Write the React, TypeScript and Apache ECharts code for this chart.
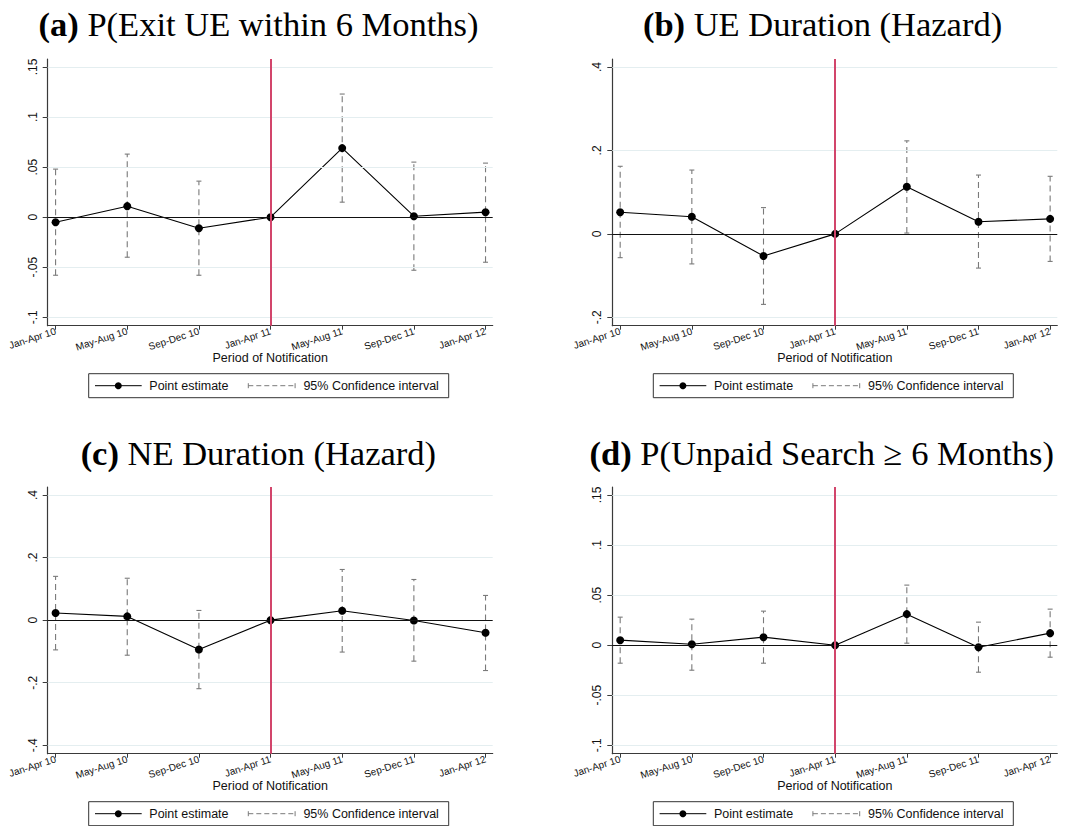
import React, { useEffect, useRef } from "react";
import * as echarts from "echarts";

const categories = ["Jan-Apr 10", "May-Aug 10", "Sep-Dec 10", "Jan-Apr 11", "May-Aug 11", "Sep-Dec 11", "Jan-Apr 12"];

const titlesBold = ["(a)", "(b)", "(c)", "(d)"];
const titlesRest = ["P(Exit UE within 6 Months)", "UE Duration (Hazard)", "NE Duration (Hazard)", "P(Unpaid Search \u2265 6 Months)"];

const aEst = [-0.005, 0.011, -0.011, 0, 0.069, 0.001, 0.005];
const aLo = [-0.058, -0.040, -0.058, null, 0.015, -0.053, -0.045];
const aHi = [0.048, 0.063, 0.036, null, 0.123, 0.055, 0.054];

const bEst = [0.052, 0.041, -0.053, 0, 0.113, 0.029, 0.036];
const bLo = [-0.057, -0.072, -0.169, null, 0.002, -0.082, -0.066];
const bHi = [0.162, 0.153, 0.063, null, 0.223, 0.141, 0.138];

const cEst = [0.023, 0.012, -0.094, 0, 0.030, -0.001, -0.040];
const cLo = [-0.095, -0.112, -0.219, null, -0.102, -0.131, -0.161];
const cHi = [0.140, 0.134, 0.031, null, 0.162, 0.130, 0.079];

const dEst = [0.005, 0.001, 0.008, 0, 0.031, -0.002, 0.012];
const dLo = [-0.018, -0.025, -0.018, null, 0.002, -0.027, -0.012];
const dHi = [0.028, 0.026, 0.034, null, 0.060, 0.023, 0.036];

const ticksSmall = [-0.1, -0.05, 0, 0.05, 0.1, 0.15];
const ticksB = [-0.2, 0, 0.2, 0.4];
const ticksC = [-0.4, -0.2, 0, 0.2, 0.4];

const xAxisTitle = "Period of Notification";
const legendPoint = "Point estimate";
const legendCI = "95% Confidence interval";
const notificationIndex = 4;

const SANS = "Liberation Sans";
const SERIF = "Liberation Serif";

function fmtTick(v: number): string {
  if (Math.abs(v) < 1e-9) return "0";
  const s = String(Math.round(Math.abs(v) * 1000) / 1000).replace(/^0/, "");
  return (v < 0 ? "-" : "") + s;
}

const panels = [
  { est: aEst, lo: aLo, hi: aHi, ticks: ticksSmall, ymin: -0.1084, ymax: 0.158, left: 47.7, top: 59, titleX: 258.5, titleY: 24 },
  { est: bEst, lo: bLo, hi: bHi, ticks: ticksB, ymin: -0.2201, ymax: 0.4192, left: 612.3, top: 59, titleX: 822.5, titleY: 24 },
  { est: cEst, lo: cLo, hi: cHi, ticks: ticksC, ymin: -0.4268, ymax: 0.4256, left: 47.7, top: 487, titleX: 258.3, titleY: 453 },
  { est: dEst, lo: dLo, hi: dHi, ticks: ticksSmall, ymin: -0.1084, ymax: 0.158, left: 612.3, top: 487, titleX: 821.7, titleY: 453 },
];

const GRID_W = 445;
const GRID_H = 266.7;
const XMIN = 0.89;
const XMAX = 7.1;
const CI_COLOR = "#7a7a7a";
const AXIS_COLOR = "#3a3a3a";
const RED = "#d2456b";
const TITLE_SIZE = 34.5;

export default function App() {
  const ref = useRef<HTMLDivElement>(null);
  useEffect(() => {
    if (!ref.current) return;
    const chart = echarts.init(ref.current, null, { renderer: "svg" });
    const xValues = categories.map((_, i) => i + 1);

    const grids: any[] = [];
    const xAxes: any[] = [];
    const yAxes: any[] = [];
    const series: any[] = [];
    const graphics: any[] = [];

    panels.forEach((p, k) => {
      grids.push({ left: p.left, top: p.top, width: GRID_W, height: GRID_H, containLabel: false, outerBoundsMode: "none" });
      xAxes.push({
        gridIndex: k,
        type: "value",
        min: XMIN,
        max: XMAX,
        axisLine: { show: true, onZero: false, lineStyle: { color: AXIS_COLOR, width: 1.2 } },
        axisTick: { show: true, customValues: xValues, length: 4, lineStyle: { color: AXIS_COLOR } },
        axisLabel: {
          customValues: xValues,
          formatter: (v: number) => categories[Math.round(v) - 1] ?? "",
          rotate: 18,
          fontSize: 10,
          fontFamily: SANS,
          color: "#111",
          margin: 5,
        },
        splitLine: { show: false },
      });
      yAxes.push({
        gridIndex: k,
        type: "value",
        min: p.ymin,
        max: p.ymax,
        axisLine: { show: true, onZero: false, lineStyle: { color: AXIS_COLOR, width: 1.2 } },
        axisTick: { show: true, customValues: p.ticks, length: 5, lineStyle: { color: AXIS_COLOR } },
        axisLabel: {
          customValues: p.ticks,
          formatter: (v: number) => fmtTick(v),
          rotate: 90,
          fontSize: 12,
          fontFamily: SANS,
          color: "#111",
          margin: 9,
        },
        splitLine: { show: false },
      });

      // reference lines: grid, zero, notification
      series.push({
        type: "line",
        xAxisIndex: k,
        yAxisIndex: k,
        data: [[1, 0]],
        symbol: "none",
        showSymbol: false,
        lineStyle: { width: 0, opacity: 0 },
        silent: true,
        z: 1,
        markLine: {
          silent: true,
          symbol: ["none", "none"],
          label: { show: false },
          animation: false,
          data: [
            ...p.ticks.filter((t) => Math.abs(t) > 1e-9).map((t) => ({ yAxis: t, lineStyle: { color: "#e4eef0", width: 1, type: "solid" } })),
            { yAxis: 0, lineStyle: { color: "#111", width: 1, type: "solid" } },
            { xAxis: notificationIndex, lineStyle: { color: RED, width: 2, type: "solid" } },
          ],
        },
      });

      // confidence intervals
      const ciData: any[] = [];
      p.lo.forEach((lo, i) => {
        const hi = p.hi[i];
        if (lo !== null && hi !== null) ciData.push([i + 1, lo, hi]);
      });
      series.push({
        type: "custom",
        name: legendCI,
        xAxisIndex: k,
        yAxisIndex: k,
        z: 2,
        encode: { x: 0, y: [1, 2] },
        data: ciData,
        renderItem: (params: any, api: any) => {
          const x = api.value(0);
          const pl = api.coord([x, api.value(1)]);
          const ph = api.coord([x, api.value(2)]);
          const st = { stroke: CI_COLOR, lineWidth: 1.1 };
          return {
            type: "group",
            children: [
              { type: "line", shape: { x1: pl[0], y1: pl[1], x2: ph[0], y2: ph[1] }, style: { ...st, lineDash: [6, 4] } },
              { type: "line", shape: { x1: pl[0] - 2.5, y1: pl[1], x2: pl[0] + 2.5, y2: pl[1] }, style: st },
              { type: "line", shape: { x1: ph[0] - 2.5, y1: ph[1], x2: ph[0] + 2.5, y2: ph[1] }, style: st },
            ],
          };
        },
      });

      // point estimates
      series.push({
        type: "line",
        name: legendPoint,
        xAxisIndex: k,
        yAxisIndex: k,
        z: 3,
        data: p.est.map((v, i) => [i + 1, v]),
        symbol: "circle",
        symbolSize: 8,
        showSymbol: true,
        itemStyle: { color: "#000" },
        lineStyle: { color: "#000", width: 1.1 },
      });

      // title
      graphics.push({
        type: "text",
        x: p.titleX,
        y: p.titleY,
        style: {
          text: "{b|" + titlesBold[k] + "} {n|" + titlesRest[k] + "}",
          align: "center",
          verticalAlign: "middle",
          fontFamily: SERIF,
          fontSize: TITLE_SIZE,
          fill: "#000",
          rich: {
            b: { fontFamily: SERIF, fontSize: TITLE_SIZE, fontWeight: "bold", fill: "#000" },
            n: { fontFamily: SERIF, fontSize: TITLE_SIZE, fill: "#000" },
          },
        },
      });

      const cx = p.left + GRID_W / 2 - 1.5;
      const axisY = p.top + GRID_H;
      // axis title
      graphics.push({
        type: "text",
        x: cx + 1.5,
        y: axisY + 32.5,
        style: { text: xAxisTitle, align: "center", verticalAlign: "middle", fontFamily: SANS, fontSize: 12.5, fill: "#111" },
      });

      // legend
      const cy = axisY + 60;
      graphics.push({
        type: "rect",
        shape: { x: cx - 180, y: cy - 12, width: 360, height: 24 },
        style: { fill: "#fff", stroke: "#333", lineWidth: 1 },
      });
      graphics.push({ type: "line", shape: { x1: cx - 173.7, y1: cy, x2: cx - 127, y2: cy }, style: { stroke: "#000", lineWidth: 1 } });
      graphics.push({ type: "circle", shape: { cx: cx - 150.4, cy: cy, r: 3.5 }, style: { fill: "#000" } });
      graphics.push({
        type: "text",
        x: cx - 119.4,
        y: cy,
        style: { text: legendPoint, align: "left", verticalAlign: "middle", fontFamily: SANS, fontSize: 12.5, fill: "#111" },
      });
      graphics.push({ type: "line", shape: { x1: cx - 20.4, y1: cy, x2: cx + 26.4, y2: cy }, style: { stroke: CI_COLOR, lineWidth: 1, lineDash: [5, 3] } });
      graphics.push({ type: "line", shape: { x1: cx - 20.4, y1: cy - 2.5, x2: cx - 20.4, y2: cy + 2.5 }, style: { stroke: CI_COLOR, lineWidth: 1 } });
      graphics.push({ type: "line", shape: { x1: cx + 26.4, y1: cy - 2.5, x2: cx + 26.4, y2: cy + 2.5 }, style: { stroke: CI_COLOR, lineWidth: 1 } });
      graphics.push({
        type: "text",
        x: cx + 34.7,
        y: cy,
        style: { text: legendCI, align: "left", verticalAlign: "middle", fontFamily: SANS, fontSize: 12.5, fill: "#111" },
      });
    });

    chart.setOption({
      animation: false,
      backgroundColor: "#fff",
      grid: grids,
      xAxis: xAxes,
      yAxis: yAxes,
      series,
      graphic: { elements: graphics },
    });
    return () => chart.dispose();
  }, []);

  return <div ref={ref} style={{ position: "absolute", left: 0, top: 0, width: 1071, height: 826 }} />;
}
